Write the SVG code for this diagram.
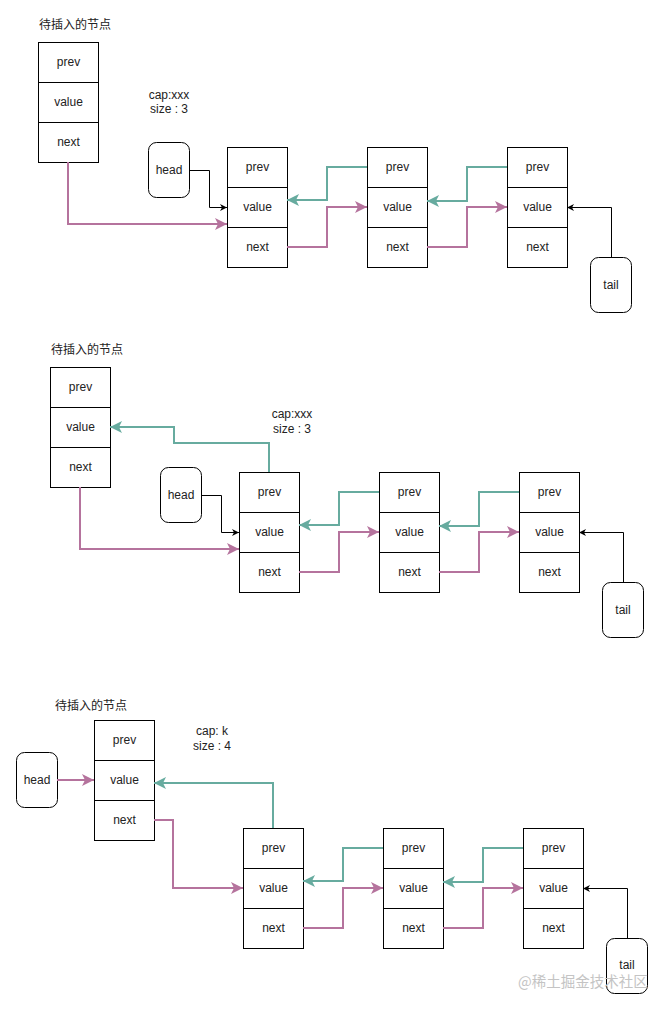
<svg xmlns="http://www.w3.org/2000/svg" width="664" height="1010" viewBox="0 0 664 1010">
<style>
.cell{fill:#fff;stroke:#000;stroke-width:1}
.rnd{fill:#fff;stroke:#000;stroke-width:1}
.lbl{font-family:"Liberation Sans",Arial,sans-serif;font-size:12px;fill:#222;text-anchor:middle}
.ttl{font-family:"Liberation Sans","Noto Sans CJK SC",sans-serif;font-size:12px;fill:#222}
.pk{fill:none;stroke:#B5739D;stroke-width:2;marker-end:url(#ap)}
.gr{fill:none;stroke:#67AB9F;stroke-width:2;marker-end:url(#ag)}
.bk{fill:none;stroke:#000;stroke-width:1;marker-end:url(#ab)}
.wm{font-family:"Noto Sans CJK SC",sans-serif;font-size:14.5px;fill:#c4c4c4}
</style>
<defs>
<marker id="ap" markerUnits="userSpaceOnUse" markerWidth="14" markerHeight="12" refX="12" refY="6" orient="auto"><path d="M0,0 L12,6 L0,12 L3,6 Z" fill="#B5739D"/></marker>
<marker id="ag" markerUnits="userSpaceOnUse" markerWidth="14" markerHeight="12" refX="12" refY="6" orient="auto"><path d="M0,0 L12,6 L0,12 L3,6 Z" fill="#67AB9F"/></marker>
<marker id="ab" markerUnits="userSpaceOnUse" markerWidth="8" markerHeight="8" refX="7" refY="3.5" orient="auto"><path d="M0,0 L7,3.5 L0,7 L2,3.5 Z" fill="#000"/></marker>
<g id="tpl">
<rect class="cell" x="0" y="0" width="60" height="40"/>
<rect class="cell" x="0" y="40" width="60" height="40"/>
<rect class="cell" x="0" y="80" width="60" height="40"/>
<text class="lbl" x="30" y="23.5">prev</text>
<text class="lbl" x="30" y="63.5">value</text>
<text class="lbl" x="30" y="103.5">next</text>
</g>
</defs>

<!-- Section 1 -->
<text class="ttl" x="39" y="29">待插入的节点</text>
<text class="lbl" x="169" y="99">cap:xxx</text>
<text class="lbl" x="169" y="113">size : 3</text>
<g id="ins1" transform="translate(38.5,42.5)"><use href="#tpl"/></g>
<g id="head1"><rect class="rnd" x="148.5" y="142.5" width="41" height="55" rx="8"/><text class="lbl" x="169" y="174">head</text></g>
<g id="a1" transform="translate(227.5,147.5)"><use href="#tpl"/></g>
<g id="b1" transform="translate(367.5,147.5)"><use href="#tpl"/></g>
<g id="c1" transform="translate(507.5,147.5)"><use href="#tpl"/></g>
<g id="tail1"><rect class="rnd" x="590.5" y="257.5" width="41" height="55" rx="8"/><text class="lbl" x="611" y="289">tail</text></g>

<!-- Section 2 -->
<text class="ttl" x="51" y="354">待插入的节点</text>
<text class="lbl" x="292" y="418">cap:xxx</text>
<text class="lbl" x="292" y="433">size : 3</text>
<g id="ins2" transform="translate(50.5,367.5)"><use href="#tpl"/></g>
<g id="head2"><rect class="rnd" x="160.5" y="467.5" width="41" height="55" rx="8"/><text class="lbl" x="181" y="499">head</text></g>
<g id="a2" transform="translate(239.5,472.5)"><use href="#tpl"/></g>
<g id="b2" transform="translate(379.5,472.5)"><use href="#tpl"/></g>
<g id="c2" transform="translate(519.5,472.5)"><use href="#tpl"/></g>
<g id="tail2"><rect class="rnd" x="602.5" y="582.5" width="41" height="55" rx="8"/><text class="lbl" x="623" y="614">tail</text></g>

<!-- Section 3 -->
<text class="ttl" x="55" y="710">待插入的节点</text>
<text class="lbl" x="212" y="735">cap: k</text>
<text class="lbl" x="212" y="750">size : 4</text>
<g id="ins3" transform="translate(94.5,720.5)"><use href="#tpl"/></g>
<g id="head3"><rect class="rnd" x="16.5" y="752.5" width="41" height="55" rx="8"/><text class="lbl" x="37" y="784">head</text></g>
<g id="a3" transform="translate(243.5,828.5)"><use href="#tpl"/></g>
<g id="b3" transform="translate(383.5,828.5)"><use href="#tpl"/></g>
<g id="c3" transform="translate(523.5,828.5)"><use href="#tpl"/></g>
<g id="tail3"><rect class="rnd" x="606.5" y="938.5" width="41" height="55" rx="8"/><text class="lbl" x="627" y="969">tail</text></g>

<g id="connectors">
<path class="bk" d="M189.5,170.5 H209.5 V207.5 H227"/>
<path class="pk" d="M68,162 V224 H227"/>
<path class="gr" d="M367,167 H327 V200 H287"/>
<path class="gr" d="M507,167 H467 V201 H427"/>
<path class="pk" d="M287,247 H327 V207 H367"/>
<path class="pk" d="M427,247 H467 V207 H507"/>
<path class="bk" d="M611.5,257 V207.5 H567"/>

<path class="bk" d="M201.5,495.5 H221.5 V532.5 H239"/>
<path class="gr" d="M269,472 V443 H174 V427 H110"/>
<path class="pk" d="M80,487 V549 H239"/>
<path class="gr" d="M379,492 H339 V525 H299"/>
<path class="gr" d="M519,492 H479 V526 H439"/>
<path class="pk" d="M299,572 H339 V532 H379"/>
<path class="pk" d="M439,572 H479 V532 H519"/>
<path class="bk" d="M623.5,582 V532.5 H579"/>

<path class="pk" d="M57,780 H94"/>
<path class="gr" d="M273,828 V783 H154"/>
<path class="pk" d="M154,820 H173 V888 H243"/>
<path class="gr" d="M383,848 H343 V881 H303"/>
<path class="gr" d="M523,848 H483 V882 H443"/>
<path class="pk" d="M303,928 H343 V888 H383"/>
<path class="pk" d="M443,928 H483 V888 H523"/>
<path class="bk" d="M627.5,938 V888.5 H583"/>
</g>

<text class="wm" x="518" y="987">@稀土掘金技术社区</text>
</svg>
